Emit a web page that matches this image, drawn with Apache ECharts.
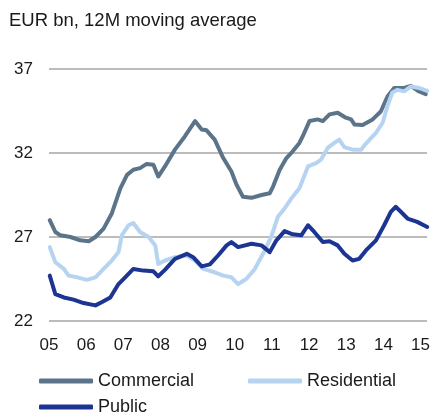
<!DOCTYPE html>
<html>
<head>
<meta charset="utf-8">
<script src="https://cdn.jsdelivr.net/npm/echarts@6/dist/echarts.min.js"></script>
<style>
  html, body { margin: 0; padding: 0; background: #fff; }
  #chart { width: 433px; height: 414px; }
</style>
</head>
<body>
<div id="chart"></div>
<script>
// values, x as decimal years
const commercialT = [2005.02, 2005.17, 2005.31, 2005.58, 2005.84, 2006.07, 2006.25, 2006.47, 2006.69, 2006.92,
  2007.10, 2007.27, 2007.45, 2007.63, 2007.81, 2007.94, 2008.12, 2008.39, 2008.66, 2008.93,
  2009.11, 2009.24, 2009.46, 2009.69, 2009.91, 2010.05, 2010.22, 2010.45, 2010.72, 2010.94,
  2011.03, 2011.21, 2011.39, 2011.56, 2011.74, 2011.83, 2012.01, 2012.23, 2012.37, 2012.55,
  2012.77, 2012.99, 2013.13, 2013.22, 2013.44, 2013.71, 2013.93, 2014.11, 2014.29, 2014.56,
  2014.74, 2014.96, 2015.14]
const commercialV = [28.0, 27.3, 27.1, 27.0, 26.8, 26.75, 27.0, 27.5, 28.4, 29.9,
  30.7, 31.0, 31.1, 31.35, 31.3, 30.6, 31.2, 32.2, 33.0, 33.9,
  33.4, 33.35, 32.8, 31.7, 30.9, 30.1, 29.4, 29.33, 29.5, 29.6,
  30.0, 31.0, 31.7, 32.1, 32.6, 33.0, 33.9, 34.0, 33.9, 34.3,
  34.4, 34.1, 34.0, 33.7, 33.67, 34.0, 34.47, 35.36, 35.87, 35.87,
  36.0, 35.66, 35.5]

const residentialT = [2005.02, 2005.17, 2005.40, 2005.53, 2005.76, 2006.02, 2006.25, 2006.47, 2006.69, 2006.87,
  2006.96, 2007.14, 2007.27, 2007.45, 2007.68, 2007.86, 2007.94, 2008.12, 2008.39, 2008.71,
  2008.93, 2009.15, 2009.46, 2009.69, 2009.91, 2010.09, 2010.31, 2010.54, 2010.76, 2010.98,
  2011.16, 2011.34, 2011.56, 2011.74, 2011.97, 2012.19, 2012.32, 2012.50, 2012.68, 2012.81,
  2012.95, 2013.17, 2013.40, 2013.53, 2013.80, 2013.98, 2014.11, 2014.24, 2014.38, 2014.56,
  2014.74, 2014.96, 2015.18]
const residentialV = [26.4, 25.5, 25.1, 24.7, 24.6, 24.45, 24.6, 25.1, 25.6, 26.1,
  27.1, 27.7, 27.83, 27.3, 27.0, 26.5, 25.4, 25.6, 25.8, 25.9,
  25.6, 25.1, 24.9, 24.7, 24.6, 24.2, 24.5, 25.1, 26.0, 27.0,
  28.2, 28.7, 29.4, 29.9, 31.2, 31.4, 31.6, 32.3, 32.6, 32.8,
  32.35, 32.2, 32.2, 32.56, 33.2, 33.8, 34.8, 35.6, 35.76, 35.67,
  35.96, 35.87, 35.7]

const publicT = [2005.02, 2005.17, 2005.40, 2005.66, 2005.93, 2006.25, 2006.43, 2006.65, 2006.87, 2007.05,
  2007.27, 2007.54, 2007.81, 2007.94, 2008.12, 2008.39, 2008.71, 2008.88, 2009.11, 2009.33,
  2009.55, 2009.78, 2009.91, 2010.09, 2010.45, 2010.72, 2010.94, 2011.12, 2011.34, 2011.56,
  2011.79, 2011.97, 2012.14, 2012.37, 2012.55, 2012.77, 2012.95, 2013.17, 2013.35, 2013.53,
  2013.80, 2014.02, 2014.20, 2014.33, 2014.47, 2014.65, 2014.91, 2015.18]
const publicV = [24.7, 23.6, 23.4, 23.27, 23.07, 22.93, 23.13, 23.4, 24.2, 24.6,
  25.1, 25.0, 24.96, 24.66, 25.04, 25.7, 26.0, 25.8, 25.25, 25.37,
  25.9, 26.5, 26.7, 26.4, 26.6, 26.5, 26.1, 26.8, 27.35, 27.16,
  27.1, 27.7, 27.3, 26.7, 26.75, 26.5, 26.0, 25.6, 25.7, 26.2,
  26.8, 27.7, 28.5, 28.8, 28.5, 28.1, 27.9, 27.6]

const seriesNames = ['Commercial', 'Residential', 'Public']
const seriesColors = ['#5c7489', '#b6d4f1', '#1c3593']

const zip = (t, v) => t.map((x, i) => [x, v[i]])
const chartData = [zip(commercialT, commercialV), zip(residentialT, residentialV), zip(publicT, publicV)]

let chart = echarts.init(document.getElementById('chart'))

const font = 'Liberation Sans, Arial, sans-serif'
const legendItem = (name, left, top) => ({
  data: [name],
  left: left,
  top: top,
  icon: 'roundRect',
  itemWidth: 54,
  itemHeight: 5,
  padding: 0,
  textStyle: { fontFamily: font, fontSize: 18, color: '#1a1a1a' }
})

let opts = {
  animation: false,
  title: {
    text: 'EUR bn, 12M moving average',
    left: 9,
    top: 11,
    padding: 0,
    textStyle: { fontFamily: font, fontSize: 18.5, fontWeight: 'normal', color: '#1a1a1a' }
  },
  legend: [
    legendItem('Commercial', 39, 372),
    legendItem('Residential', 248, 372),
    legendItem('Public', 39, 398)
  ],
  grid: { left: 49, right: 5, top: 69, bottom: 93 },
  xAxis: {
    type: 'value',
    min: 2005,
    max: 2015.175,
    interval: 1,
    axisLine: { show: false },
    axisTick: { show: false },
    splitLine: { show: false },
    axisLabel: {
      margin: 16,
      fontFamily: font,
      fontSize: 17,
      color: '#1a1a1a',
      formatter: v => Math.abs(v - Math.round(v)) < 1e-6 ? String(Math.round(v) % 100).padStart(2, '0') : ''
    }
  },
  yAxis: {
    type: 'value',
    min: 22,
    max: 37,
    interval: 5,
    axisLine: { show: false },
    axisTick: { show: false },
    splitLine: { lineStyle: { color: '#a6a6a6', width: 1.5 } },
    axisLabel: { margin: 16, fontFamily: font, fontSize: 17, color: '#1a1a1a' }
  },
  series: seriesNames.map((name, i) => ({
    name: name,
    type: 'line',
    data: chartData[i],
    showSymbol: false,
    symbol: 'none',
    color: seriesColors[i],
    lineStyle: { width: 4, color: seriesColors[i], cap: 'round', join: 'round' }
  }))
}
chart.setOption(opts)
</script>
</body>
</html>
